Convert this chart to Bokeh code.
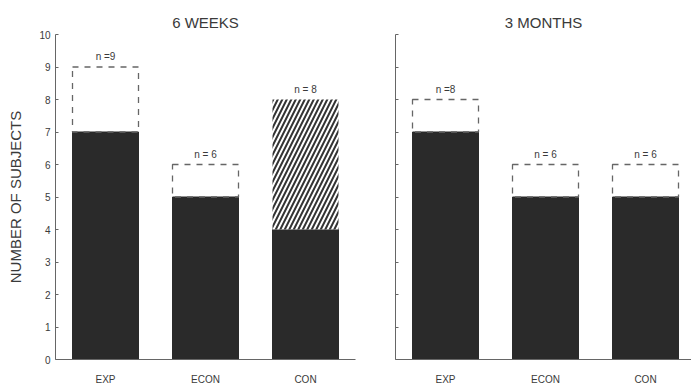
from bokeh.plotting import figure
from bokeh.layouts import row
from bokeh.models import FixedTicker, Range1d, ColumnDataSource
from bokeh.core.properties import value
from bokeh.embed import file_html
from bokeh.resources import INLINE

# Subject counts per group at each follow-up
groups = ["EXP", "ECON", "CON"]
weeks6_total = [9, 6, 8]
weeks6_solid = [7, 5, 4]
weeks6_upper = ["dashed", "dashed", "hatched"]
weeks6_labels = ["n =9", "n = 6", "n = 8"]

months3_total = [8, 6, 6]
months3_solid = [7, 5, 5]
months3_upper = ["dashed", "dashed", "dashed"]
months3_labels = ["n =8", "n = 6", "n = 6"]

y_ticks = list(range(0, 11))

FONT = "Liberation Sans"
INK = "#3a3a3a"
BAR = "#2a2a2a"
BAR_W = 0.66


def panel(title, total, solid, upper, labels, width, border_left, border_right,
          x_end, show_ylabels):
    p = figure(width=width, height=387, output_backend="svg", toolbar_location=None,
               x_range=Range1d(0, x_end), y_range=Range1d(0, 10),
               min_border_left=border_left, min_border_right=border_right,
               min_border_top=34, min_border_bottom=23)
    p.outline_line_color = None
    p.grid.visible = False
    p.background_fill_color = "white"
    p.border_fill_color = "white"

    p.title.text = title
    p.title.align = "center"
    p.title.text_font = FONT
    p.title.text_font_size = "15px"
    p.title.text_font_style = "normal"
    p.title.text_color = INK
    p.title.standoff = 8

    x = [i + 0.5 for i in range(len(groups))]
    src = ColumnDataSource(dict(x=x, solid=solid, total=total, labels=labels))

    # solid portion of each bar
    p.vbar(x="x", width=BAR_W, bottom=0, top="solid", source=src,
           fill_color=BAR, line_color=BAR)

    # upper portion: dashed outline or hatched fill
    for xi, s, t, kind in zip(x, solid, total, upper):
        if kind == "hatched":
            p.quad(left=xi - BAR_W / 2, right=xi + BAR_W / 2, bottom=s, top=t,
                   fill_color="white", line_color=None,
                   hatch_pattern="/", hatch_color="#333333",
                   hatch_scale=9, hatch_weight=2)
        else:
            p.quad(left=xi - BAR_W / 2, right=xi + BAR_W / 2, bottom=s, top=t,
                   fill_color=None, line_color="#666666", line_width=1.3,
                   line_dash="6 6")

    p.text(x="x", y="total", text="labels", source=src,
           text_align="center", text_baseline="bottom", y_offset=-5,
           text_font=value(FONT), text_font_size="10px", text_color=INK)

    # axes
    p.xaxis.ticker = FixedTicker(ticks=x)
    p.xaxis.major_label_overrides = {xi: g for xi, g in zip(x, groups)}
    p.xaxis.major_tick_line_color = None
    p.xaxis.minor_tick_line_color = None
    p.xaxis.axis_line_color = "#666666"
    p.xaxis.axis_line_width = 1.2
    p.xaxis.major_label_text_font = FONT
    p.xaxis.major_label_text_font_size = "10px"
    p.xaxis.major_label_text_color = INK
    p.xaxis.major_label_standoff = 8

    p.yaxis.ticker = FixedTicker(ticks=y_ticks)
    p.yaxis.major_tick_in = 3
    p.yaxis.major_tick_out = 0
    p.yaxis.minor_tick_line_color = None
    p.yaxis.axis_line_color = "#666666"
    p.yaxis.major_tick_line_color = "#666666"
    p.yaxis.major_label_text_font = FONT
    p.yaxis.major_label_text_font_size = "10px"
    p.yaxis.major_label_text_color = INK
    p.yaxis.major_label_standoff = 5
    if show_ylabels:
        p.yaxis.axis_label = "NUMBER OF SUBJECTS"
        p.yaxis.axis_label_text_font = FONT
        p.yaxis.axis_label_text_font_size = "15px"
        p.yaxis.axis_label_text_font_style = "normal"
        p.yaxis.axis_label_text_color = INK
        p.yaxis.axis_label_standoff = 12
    else:
        p.yaxis.major_label_overrides = {t: "" for t in y_ticks}
    return p


left = panel("6 WEEKS", weeks6_total, weeks6_solid, weeks6_upper, weeks6_labels,
             width=375, border_left=55, border_right=20, x_end=3.0, show_ylabels=True)
right = panel("3 MONTHS", months3_total, months3_solid, months3_upper, months3_labels,
              width=316, border_left=20, border_right=0, x_end=2.96, show_ylabels=False)

layout = row(left, right)
open("out.html", "w").write(file_html(layout, INLINE))
